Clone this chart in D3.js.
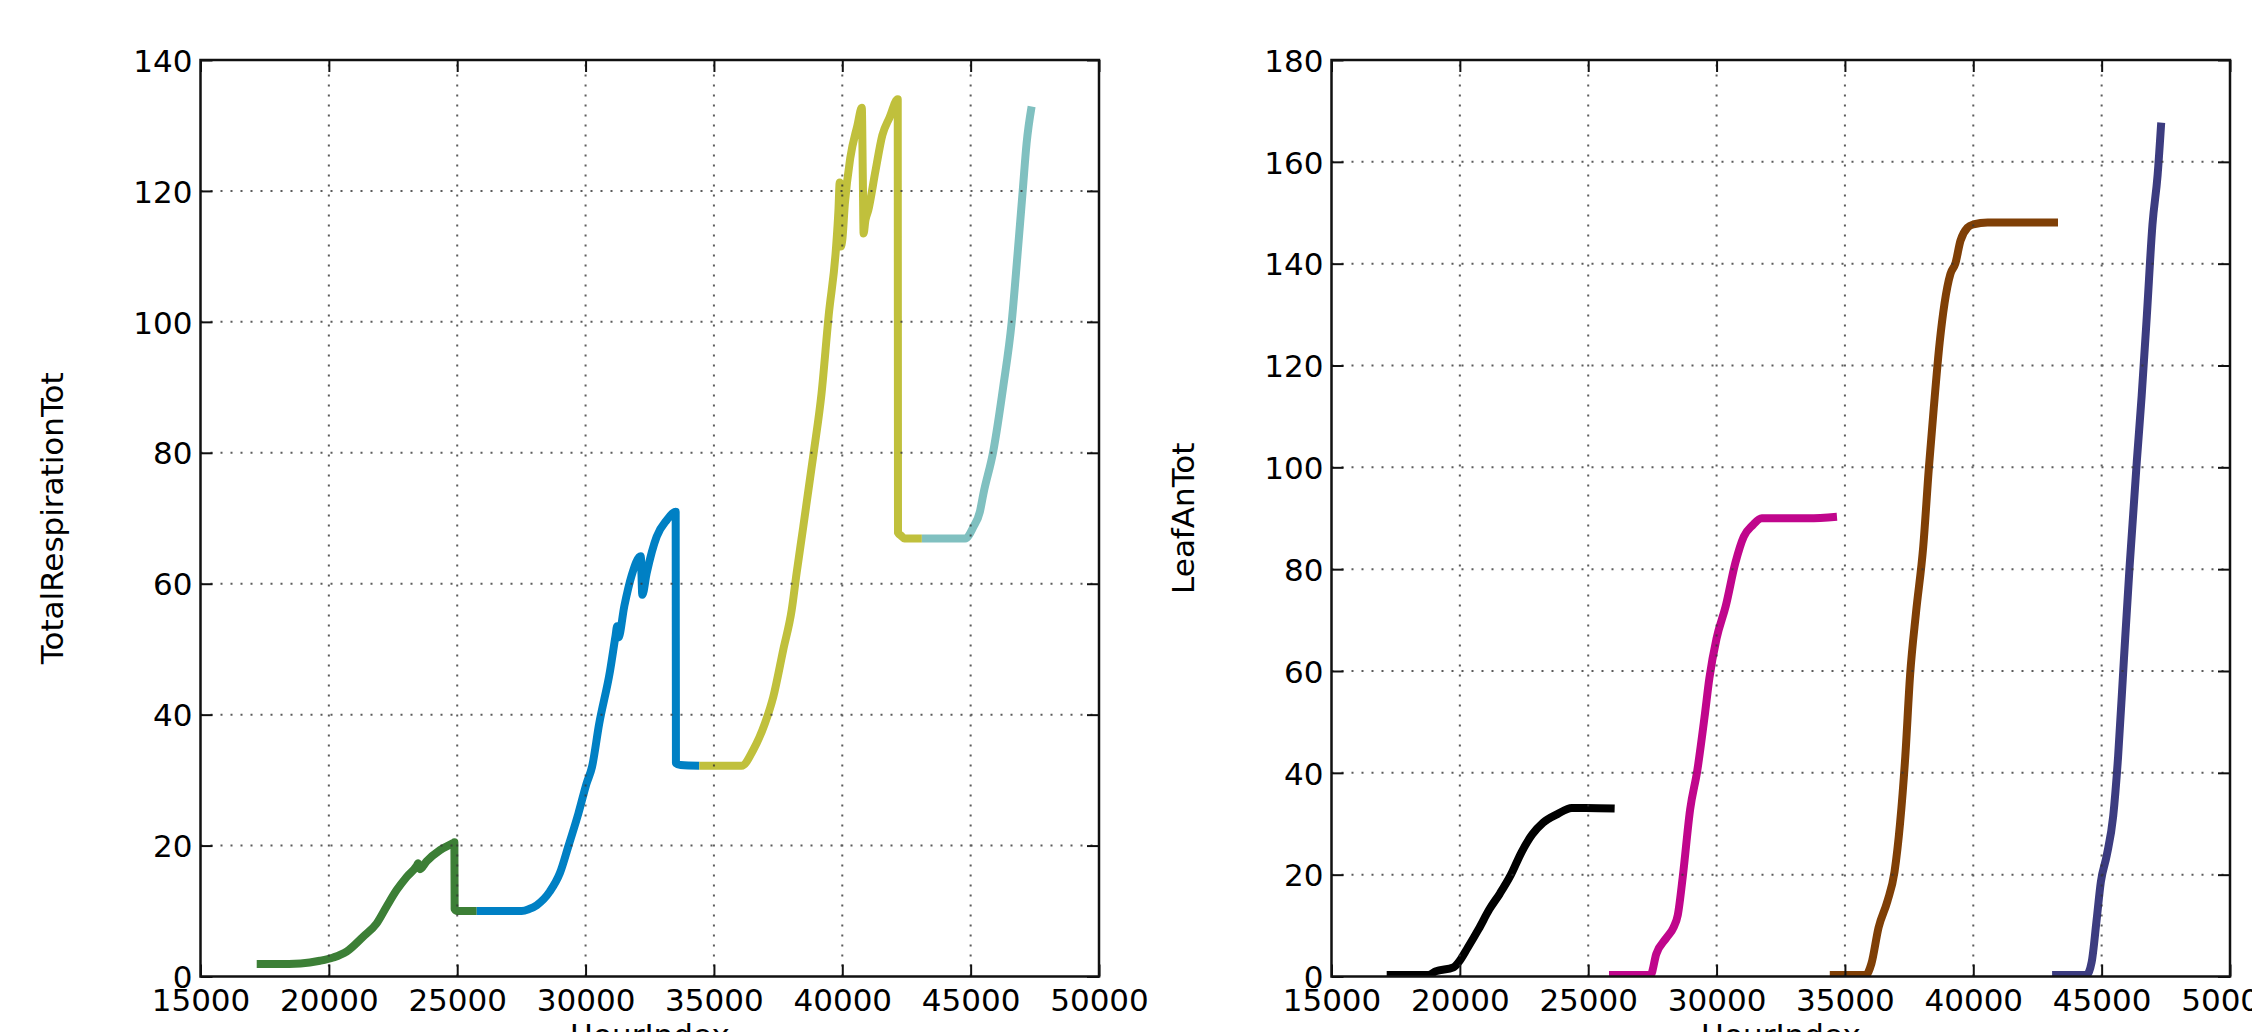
<!DOCTYPE html>
<html>
<head>
<meta charset="utf-8">
<script src="https://cdn.jsdelivr.net/npm/d3@7"></script>
<style>
  html, body { margin: 0; padding: 0; background: #fff; overflow: hidden; }
  svg { display: block; }
  text { font-family: "DejaVu Sans", sans-serif; fill: #000; }
</style>
</head>
<body>
<svg id="chart" width="2252" height="1032"></svg>
<script>
// ---------- data ----------
const xTicks = [15000, 20000, 25000, 30000, 35000, 40000, 45000, 50000];
const respYTicks = [0, 20, 40, 60, 80, 100, 120, 140];
const leafYTicks = [0, 20, 40, 60, 80, 100, 120, 140, 160, 180];
const xLabel = "HourIndex";
const respYLabel = "TotalRespirationTot";
const leafYLabel = "LeafAnTot";

const respGreen = [[17190,1.9],[18000,1.9],[18900,2.0],[19650,2.4],[20170,2.9],[20690,3.8],[21340,6.1],[21860,8.1],[22250,10.7],[22640,13.2],[23030,15.2],[23420,16.9],[23480,17.3],[23550,16.4],[23810,17.6],[24330,19.3],[24850,20.4],[24890,20.5],[24900,10.3],[25000,10.0],[25760,10.0]];
const respBlue = [[25760,10.0],[27510,10.0],[27800,10.3],[28100,10.9],[28610,13.0],[29000,15.8],[29330,19.9],[29720,24.9],[30040,29.5],[30250,32.0],[30530,38.6],[30950,46.6],[31170,52.1],[31230,53.5],[31280,51.8],[31510,56.6],[31790,61.2],[32150,64.2],[32210,58.3],[32380,61.6],[32770,67.2],[33160,69.7],[33510,71.0],[33520,32.6],[33700,32.3],[34430,32.2]];
const respOlive = [[34430,32.2],[36080,32.2],[36530,34.6],[36990,38.7],[37310,42.7],[37700,49.9],[38030,56.0],[38220,61.6],[38480,68.7],[38680,74.3],[38900,80.4],[39190,89.0],[39470,101.0],[39750,111.0],[39850,117.0],[39900,121.3],[39940,111.5],[40000,112.5],[40100,118.0],[40310,125.0],[40590,130.0],[40760,132.7],[40800,122.0],[40830,113.5],[40900,115.5],[41010,117.0],[41290,123.0],[41560,128.5],[41840,131.2],[42160,134.0],[42170,67.8],[42300,67.3],[42420,66.9],[43100,66.9]];
const respTeal = [[43100,66.9],[44790,66.9],[45110,68.7],[45360,71.0],[45500,73.8],[45880,80.2],[46270,90.1],[46600,100.0],[46820,110.0],[47030,120.1],[47180,127.3],[47375,132.9]];

const leafBlack = [[17150,0.3],[18770,0.3],[19050,1.0],[19750,1.8],[19950,2.8],[20310,5.7],[20730,9.3],[21150,13.2],[21560,16.3],[21980,19.9],[22400,24.4],[22820,27.9],[23240,30.2],[23800,31.9],[24360,33.1],[24920,33.1],[26030,33.0]];
const leafMagenta = [[25810,0.3],[27430,0.3],[27650,4.4],[28050,7.6],[28320,9.6],[28490,12.1],[28690,19.9],[28970,32.8],[29250,40.5],[29530,50.9],[29720,58.6],[30000,66.4],[30360,72.8],[30730,81.2],[31060,86.4],[31400,88.6],[31760,90.0],[33580,90.0],[34690,90.3]];
const leafBrown = [[34410,0.3],[35810,0.3],[36030,2.5],[36310,9.6],[36650,14.7],[36930,20.5],[37150,30.2],[37350,43.1],[37540,59.3],[37770,71.5],[38050,84.4],[38270,99.9],[38460,111.6],[38690,124.5],[38880,132.2],[39110,138.0],[39300,140.0],[39500,144.5],[39780,147.1],[40000,147.7],[40560,148.1],[43300,148.1]];
const leafNavy = [[43070,0.3],[44410,0.3],[44610,2.8],[44800,10.9],[44970,18.6],[45200,23.8],[45450,31.5],[45640,43.1],[45870,62.5],[46090,80.6],[46370,101.2],[46560,114.1],[46760,129.7],[46980,147.7],[47180,157.4],[47320,167.7]];

const respSeries = [respGreen, respBlue, respOlive, respTeal];
const respColors = ["#3c7f36", "#0080c4", "#c0c03c", "#80c0c0"];
const leafSeries = [leafBlack, leafMagenta, leafBrown, leafNavy];
const leafColors = ["#000000", "#c0068c", "#7f3f06", "#3c3c80"];

// ---------- drawing ----------
const svg = d3.select("#chart");
const FONT = 31;

function panel(opts) {
  const { left, right, top, bottom, yMax, yTicks, series, colors, yLabel, id } = opts;
  const x = d3.scaleLinear().domain([15000, 50000]).range([left, right]);
  const y = d3.scaleLinear().domain([0, yMax]).range([bottom, top]);
  const g = svg.append("g");

  g.append("clipPath").attr("id", id).append("rect")
    .attr("x", left).attr("y", top).attr("width", right - left).attr("height", bottom - top);

  const line = d3.line().curve(d3.curveMonotoneX).x(d => x(d[0])).y(d => y(d[1]));
  const lines = g.append("g").attr("clip-path", `url(#${id})`);
  series.forEach((s, i) => {
    lines.append("path").attr("d", line(s))
      .attr("fill", "none").attr("stroke", colors[i])
      .attr("stroke-width", 8).attr("stroke-linejoin", "round").attr("stroke-linecap", "butt");
  });

  // grid (drawn above lines, like classic matplotlib)
  const grid = g.append("g").attr("stroke", "#333").attr("stroke-width", 2)
    .attr("stroke-dasharray", "2 8").attr("opacity", 0.8);
  xTicks.slice(1, -1).forEach(t => {
    grid.append("line").attr("x1", x(t)).attr("x2", x(t)).attr("y1", bottom).attr("y2", top);
  });
  yTicks.slice(1, -1).forEach(t => {
    grid.append("line").attr("x1", left).attr("x2", right).attr("y1", y(t)).attr("y2", y(t));
  });

  // axes via d3 (inward ticks on all four sides)
  const tl = 12;
  const axB = g.append("g").attr("transform", `translate(0,${bottom})`)
    .call(d3.axisBottom(x).tickValues(xTicks).tickSize(-tl).tickFormat(d3.format("d")));
  const axT = g.append("g").attr("transform", `translate(0,${top})`)
    .call(d3.axisTop(x).tickValues(xTicks).tickSize(-tl).tickFormat(""));
  const axL = g.append("g").attr("transform", `translate(${left},0)`)
    .call(d3.axisLeft(y).tickValues(yTicks).tickSize(-tl).tickPadding(8).tickFormat(d3.format("d")));
  const axR = g.append("g").attr("transform", `translate(${right},0)`)
    .call(d3.axisRight(y).tickValues(yTicks).tickSize(-tl).tickFormat(""));
  [axB, axT, axL, axR].forEach(a => {
    a.select(".domain").remove();
    a.selectAll(".tick line").attr("stroke", "#111").attr("stroke-width", 2);
    a.selectAll("text").attr("font-size", FONT).attr("font-family", "DejaVu Sans, sans-serif").attr("fill", "#000");
  });
  axB.selectAll("text").attr("dy", null).attr("y", 34);
  axL.selectAll("text").attr("dy", "0.36em");

  // spines
  g.append("rect").attr("x", left).attr("y", top).attr("width", right - left).attr("height", bottom - top)
    .attr("fill", "none").attr("stroke", "#111").attr("stroke-width", 2.5);

  // axis labels
  g.append("text").attr("x", (left + right) / 2).attr("y", 1046)
    .attr("text-anchor", "middle").attr("font-size", FONT).text(xLabel);
  g.append("text").attr("transform", `translate(${left - 137.5},${(top + bottom) / 2}) rotate(-90)`)
    .attr("text-anchor", "middle").attr("font-size", FONT).text(yLabel);
}

panel({ id: "clipL", left: 200.5, right: 1099, top: 60, bottom: 976.5, yMax: 140,
  yTicks: respYTicks, series: respSeries, colors: respColors, yLabel: respYLabel });
panel({ id: "clipR", left: 1331.5, right: 2230, top: 60, bottom: 976.5, yMax: 180,
  yTicks: leafYTicks, series: leafSeries, colors: leafColors, yLabel: leafYLabel });
</script>
</body>
</html>
